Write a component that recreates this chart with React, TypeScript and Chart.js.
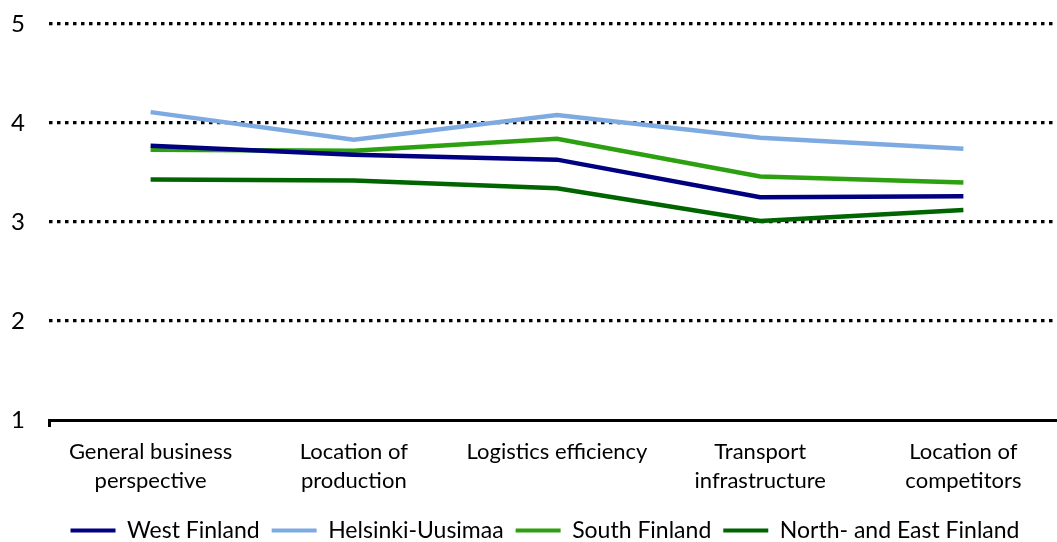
import React, { useEffect, useRef } from "react";
import { Chart, registerables } from "chart.js";

Chart.register(...registerables);

const categories: (string | string[])[] = [
  ["General business", "perspective"],
  ["Location of", "production"],
  "Logistics efficiency",
  ["Transport", "infrastructure"],
  ["Location of", "competitors"],
];

const westFinland = [3.77, 3.68, 3.63, 3.25, 3.26];
const helsinkiUusimaa = [4.11, 3.83, 4.08, 3.85, 3.74];
const southFinland = [3.73, 3.72, 3.84, 3.46, 3.4];
const northEastFinland = [3.43, 3.42, 3.34, 3.01, 3.12];

const yTicks = [1, 2, 3, 4, 5];

const FONT = "Lato, 'DejaVu Sans', sans-serif";
const W = 1065;
const H = 542;
const PLOT_BOTTOM = 420;

const legendShift = {
  id: "legendShift",
  afterLayout(chart: any) {
    const l = chart.legend;
    if (!l) return;
    const dx = 7;
    const dy = 10;
    l.left += dx;
    l.right += dx;
    l.top += dy;
    l.bottom += dy;
  },
};

export default function App() {
  const ref = useRef<HTMLCanvasElement | null>(null);

  useEffect(() => {
    if (!ref.current) return;
    const chart = new Chart(ref.current, {
      type: "line",
      data: {
        labels: categories,
        datasets: [
          { label: "West Finland", data: westFinland, borderColor: "#000080", backgroundColor: "#000080" },
          { label: "Helsinki-Uusimaa", data: helsinkiUusimaa, borderColor: "#7eaae2", backgroundColor: "#7eaae2" },
          { label: "South Finland", data: southFinland, borderColor: "#2ca010", backgroundColor: "#2ca010" },
          { label: "North- and East Finland", data: northEastFinland, borderColor: "#006400", backgroundColor: "#006400" },
        ].map((d) => ({ ...d, borderWidth: 4.5, pointRadius: 0, tension: 0, fill: false })),
      },
      options: {
        responsive: false,
        animation: false,
        layout: { padding: { top: 24, left: 11, right: 0, bottom: 0 } },
        plugins: {
          tooltip: { enabled: false },
          legend: {
            position: "bottom",
            labels: {
              font: { family: FONT, size: 23 },
              color: "#000",
              boxWidth: 45,
              boxHeight: 4,
              padding: 12,
              generateLabels: (c: any) => {
                const items = Chart.defaults.plugins.legend.labels.generateLabels(c);
                return items.map((it: any) => ({ ...it, lineWidth: 0, fillStyle: it.strokeStyle }));
              },
            },
          },
        },
        scales: {
          x: {
            type: "category",
            offset: true,
            afterFit: (s: any) => {
              const lh = s.chart.legend ? s.chart.legend.height : 0;
              s.height = H - PLOT_BOTTOM - lh;
            },
            grid: {
              offset: true,
              drawOnChartArea: false,
              drawTicks: true,
              tickLength: 7,
              lineWidth: 3,
              color: (ctx: any) => (ctx.index === 0 ? "#000" : "rgba(0,0,0,0)"),
            },
            border: { display: true, color: "#000", width: 3 },
            ticks: {
              font: { family: FONT, size: 22, lineHeight: 1.32 },
              color: "#000",
              padding: 10,
              maxRotation: 0,
              autoSkip: false,
            },
          },
          y: {
            min: 1,
            max: 5,
            afterFit: (s: any) => {
              s.width = 38;
            },
            afterBuildTicks: (s: any) => {
              s.ticks = yTicks.map((v) => ({ value: v }));
            },
            grid: {
              drawTicks: false,
              lineWidth: 3.2,
              color: (ctx: any) => (ctx.tick && ctx.tick.value === 1 ? "rgba(0,0,0,0)" : "#000"),
            },
            border: { display: false, dash: [3.5, 4.5] },
            ticks: {
              font: { family: FONT, size: 24 },
              color: "#000",
              padding: 0,
              crossAlign: "far",
            },
          },
        },
      },
      plugins: [legendShift],
    } as any);
    return () => chart.destroy();
  }, []);

  return (
    <div style={{ position: "fixed", left: 0, top: 0, width: 1057, height: H, overflow: "hidden", background: "#fff" }}>
      <canvas ref={ref} width={W} height={H} style={{ display: "block", width: W, height: H }} />
    </div>
  );
}
